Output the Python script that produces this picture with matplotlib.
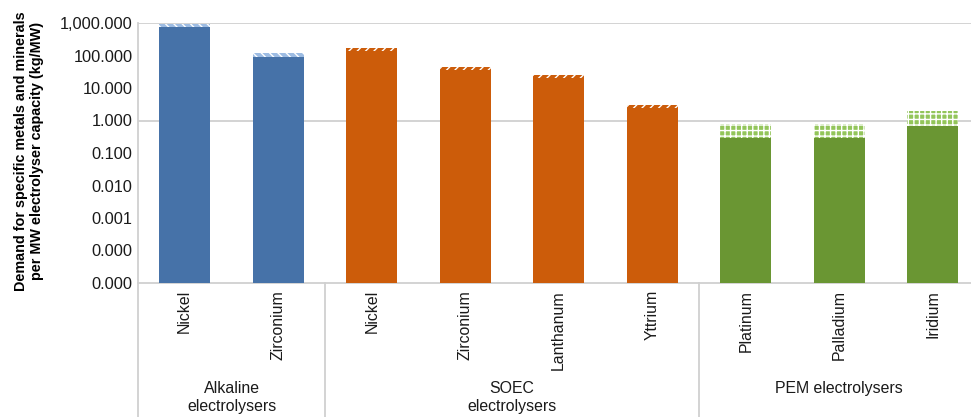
import matplotlib
matplotlib.use("Agg")
import matplotlib.pyplot as plt
from matplotlib.lines import Line2D
from matplotlib.ticker import FixedLocator, FuncFormatter

plt.rcParams['font.family'] = ['Liberation Sans', 'DejaVu Sans']
plt.rcParams['hatch.linewidth'] = 1.0

# metals per technology
metals = ['Nickel', 'Zirconium', 'Nickel', 'Zirconium', 'Lanthanum', 'Yttrium',
          'Platinum', 'Palladium', 'Iridium']
groups = ['Alkaline\nelectrolysers', 'SOEC\nelectrolysers', 'PEM electrolysers']
group_sizes = [2, 4, 3]

# low and high estimate (kg/MW)
low = [740, 92, 140, 35, 20.5, 2.5, 0.28, 0.28, 0.67]
high = [935, 121, 173, 45, 24.7, 3.1, 0.77, 0.77, 1.9]

solid_colors = ['#4672A8', '#CC5C0A', '#6A9633']
hatch_face = ['#9DBCE3', '#CC5C0A', '#93C55A']
hatch_edge = ['white', 'white', 'white']
hatches = ['\\\\\\\\', '////', '+++']

fig = plt.figure(figsize=(9.71, 4.17), dpi=100)
ax = fig.add_axes([138 / 971, 134 / 417, 841.5 / 971, 260 / 417])

ax.set_yscale('log')
ax.set_ylim(1e-5, 1e3)
ax.set_xlim(-0.5, 8.5)

bottom = 1e-7
x = 0
for g, n in enumerate(group_sizes):
    xs = list(range(x, x + n))
    lo = low[x:x + n]
    hi = high[x:x + n]
    ax.bar(xs, [v - bottom for v in lo], bottom=bottom, width=0.55,
           color=solid_colors[g], linewidth=0, zorder=3)
    ax.bar(xs, [h - l for h, l in zip(hi, lo)], bottom=lo, width=0.55,
           facecolor=hatch_face[g], edgecolor=hatch_edge[g], hatch=hatches[g],
           linewidth=0, zorder=3)
    x += n

# gridlines as in the original (only at 1,000 and 1)
for v in [1e3, 1]:
    ax.axhline(v, color='#D0D0D0', lw=1.3, zorder=1)

ax.yaxis.set_major_locator(FixedLocator([10.0 ** k for k in range(-5, 4)]))
ax.yaxis.set_minor_locator(FixedLocator([]))
ax.yaxis.set_major_formatter(FuncFormatter(lambda v, p: f'{v:,.3f}'))
ax.tick_params(axis='y', length=0, pad=4, labelsize=11.8, colors='#1a1a1a')

ax.set_xticks(range(len(metals)))
ax.set_xticklabels(metals, rotation=90, fontsize=11.4, color='#1a1a1a')
ax.tick_params(axis='x', length=0, pad=5)

for s in ['top', 'right', 'left']:
    ax.spines[s].set_visible(False)
ax.spines['bottom'].set_color('#D0D0D0')
ax.spines['bottom'].set_linewidth(1.3)

# left axis line, running down through the category area
ax.add_line(Line2D([0, 0], [1, -0.53], transform=ax.transAxes, color='#D0D0D0',
                   lw=1.3, clip_on=False))

# group separators and group labels
trans = ax.get_xaxis_transform()
x = 0
for g, n in enumerate(group_sizes):
    if x > 0:
        ax.add_line(Line2D([x - 0.5, x - 0.5], [0, -0.53], transform=trans,
                           color='#D0D0D0', lw=1.3, clip_on=False))
    ax.text(x + (n - 1) / 2, -0.378, groups[g], transform=trans, ha='center',
            va='top', fontsize=11.4, color='#1a1a1a', linespacing=1.2)
    x += n

fig.text(29 / 971, 1 - 151 / 417,
         'Demand for specific metals and minerals\nper MW electrolyser capacity (kg/MW)',
         rotation=90, ha='center', va='center', fontsize=10.4, fontweight='bold',
         linespacing=1.1)

fig.savefig('out.png', dpi=100)
